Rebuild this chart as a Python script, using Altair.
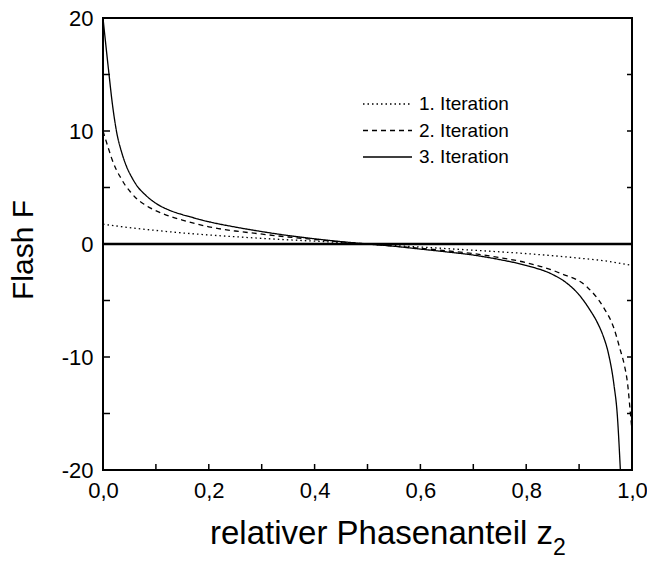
import altair as alt
import pandas as pd

# ---- data ----
series_names = ["1. Iteration", "2. Iteration", "3. Iteration"]

z1 = [0.0, 0.05, 0.1, 0.15, 0.2, 0.3, 0.4, 0.5, 0.6, 0.7, 0.8, 0.9, 0.95, 1.0]
F1 = [1.75, 1.45, 1.2, 0.98, 0.8, 0.5, 0.25, 0.0, -0.27, -0.55, -0.85, -1.25, -1.5, -1.9]

z2 = [0.0, 0.01, 0.017, 0.025, 0.033, 0.042, 0.052, 0.065, 0.08, 0.09, 0.11, 0.128, 0.15,
      0.175, 0.2, 0.25, 0.29, 0.35, 0.4, 0.45, 0.5, 0.55, 0.6, 0.65, 0.7, 0.75, 0.8, 0.865,
      0.915, 0.946, 0.965, 0.978, 0.985, 0.992, 0.997, 1.0]
F2 = [10.0, 8.5, 7.5, 6.6, 5.9, 5.2, 4.6, 3.95, 3.45, 3.17, 2.75, 2.43, 2.12,
      1.8, 1.52, 1.15, 0.93, 0.62, 0.4, 0.19, 0.0, -0.18, -0.38, -0.6, -0.85, -1.2, -1.65, -2.6,
      -3.8, -5.6, -7.35, -9.4, -10.6, -12.5, -15.0, -16.5]

z3 = [0.0, 0.01, 0.018, 0.025, 0.036, 0.045, 0.055, 0.065, 0.08, 0.1, 0.125, 0.15, 0.165, 0.2,
      0.25, 0.3, 0.35, 0.4, 0.45, 0.5, 0.55, 0.6, 0.65, 0.7, 0.75, 0.8, 0.85, 0.875, 0.9,
      0.92, 0.935, 0.946, 0.955, 0.966, 0.972, 0.978]
F3 = [20.0, 15.6, 12.3, 10.1, 8.0, 6.8, 5.85, 5.1, 4.35, 3.6, 3.0, 2.6, 2.4, 1.97,
      1.5, 1.1, 0.75, 0.46, 0.21, 0.0, -0.2, -0.45, -0.7, -0.98, -1.38, -1.9, -2.7, -3.4, -4.5,
      -5.8, -7.0, -8.2, -9.6, -12.5, -15.0, -20.0]

x_ticks = [0.0, 0.2, 0.4, 0.6, 0.8, 1.0]
x_minor = [0.1, 0.2, 0.3, 0.4, 0.5, 0.6, 0.7, 0.8, 0.9]
y_ticks = [-20, -10, 0, 10, 20]
y_minor = [-15, -10, -5, 0, 5, 10, 15]

dashes = [[1.5, 3], [5, 4], [1, 0]]

rows = []
for name, zs, Fs in zip(series_names, [z1, z2, z3], [F1, F2, F3]):
    for a, b in zip(zs, Fs):
        rows.append({"series": name, "z": a, "F": b})
df = pd.DataFrame(rows)

W, H = 529, 452
FONT = "Liberation Sans"

xscale = alt.Scale(domain=[0, 1], nice=False, zero=False)
yscale = alt.Scale(domain=[-20, 20], nice=False, zero=False)

lines = alt.Chart(df).mark_line(color="black", strokeWidth=1.3, clip=True,
                                interpolate="monotone").encode(
    x=alt.X("z:Q", scale=xscale,
            axis=alt.Axis(values=x_ticks, labelExpr="replace(format(datum.value, '.1f'), '.', ',')",
                          domain=False, ticks=False, grid=False, title=None,
                          labelFontSize=22, labelFont=FONT, labelColor="black",
                          labelPadding=10, labelFlush=False)),
    y=alt.Y("F:Q", scale=yscale,
            axis=alt.Axis(values=y_ticks, labelExpr="'' + datum.value",
                          domain=False, ticks=False, grid=False, title=None,
                          labelFontSize=22, labelFont=FONT, labelColor="black",
                          labelPadding=10, labelFlush=False)),
    strokeDash=alt.StrokeDash("series:N",
                              scale=alt.Scale(domain=series_names, range=dashes),
                              legend=None),
)

zero = alt.Chart(pd.DataFrame({"v": [0]})).mark_rule(color="black", strokeWidth=2.5).encode(
    y=alt.Y("v:Q", scale=yscale)
)

left_ticks = alt.Chart(pd.DataFrame({"v": y_minor})).mark_rule(color="black", strokeWidth=1.5).encode(
    y=alt.Y("v:Q", scale=yscale), x=alt.value(0), x2=alt.value(7)
)
right_ticks = alt.Chart(pd.DataFrame({"v": y_minor})).mark_rule(color="black", strokeWidth=1.5).encode(
    y=alt.Y("v:Q", scale=yscale), x=alt.value(W - 5), x2=alt.value(W)
)
bottom_ticks = alt.Chart(pd.DataFrame({"v": x_minor})).mark_rule(color="black", strokeWidth=1.5).encode(
    x=alt.X("v:Q", scale=xscale), y=alt.value(H), y2=alt.value(H - 6)
)

legend_layers = []
for i, (name, d) in enumerate(zip(series_names, dashes)):
    ld = pd.DataFrame({"label": [name]})
    yy = 86 + i * 26.5
    legend_layers.append(
        alt.Chart(ld).mark_rule(color="black", strokeWidth=1.3, strokeDash=d).encode(
            x=alt.value(260), x2=alt.value(309), y=alt.value(yy))
    )
    legend_layers.append(
        alt.Chart(ld).mark_text(align="left", baseline="middle", font=FONT, fontSize=19,
                                color="black").encode(
            x=alt.value(316), y=alt.value(yy), text="label:N")
    )

xtitle = alt.Chart(pd.DataFrame({"t": ["relativer Phasenanteil z"]})).mark_text(
    align="left", baseline="alphabetic", font=FONT, fontSize=33, color="black").encode(
    x=alt.value(107), y=alt.value(526), text="t:N")
xsub = alt.Chart(pd.DataFrame({"t": ["2"]})).mark_text(
    align="left", baseline="alphabetic", font=FONT, fontSize=23, color="black").encode(
    x=alt.value(450), y=alt.value(537), text="t:N")
ytitle = alt.Chart(pd.DataFrame({"t": ["Flash F"]})).mark_text(
    align="center", baseline="middle", font=FONT, fontSize=30, color="black", angle=270).encode(
    x=alt.value(-79), y=alt.value(232), text="t:N")

chart = alt.layer(lines, zero, left_ticks, right_ticks, bottom_ticks, xtitle, xsub, ytitle,
                  *legend_layers).properties(
    width=W, height=H,
    padding={"left": 103, "top": 18, "right": 15, "bottom": 92},
    autosize="none",
).configure_view(stroke="black", strokeWidth=2)

chart.save("out.html", embed_options={"renderer": "svg", "actions": False})
